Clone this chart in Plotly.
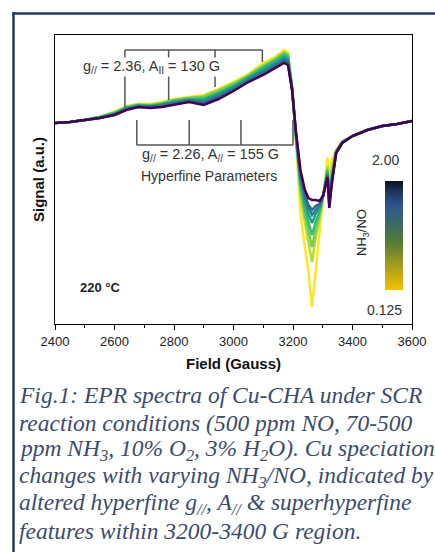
import plotly.graph_objects as go

# ---------------- data ----------------
field = [2400, 2450, 2500, 2550, 2600, 2640, 2680, 2720, 2760, 2800, 2850, 2900, 2950,
         3000, 3050, 3100, 3140, 3170, 3183, 3197, 3210, 3225, 3240, 3252, 3264, 3276,
         3290, 3302, 3310, 3316, 3322, 3330, 3345, 3365, 3400, 3450, 3500, 3550, 3600]

ratios = [0.125, 0.25, 0.50, 0.75, 1.00, 1.25, 1.50, 2.00]

sig_0125 = [0.00, 0.01, 0.03, 0.06, 0.11, 0.17, 0.19, 0.19, 0.21, 0.24, 0.26, 0.28, 0.34,
            0.41, 0.49, 0.60, 0.66, 0.73, 0.71, 0.35, -0.17, -0.90, -1.24, -1.49, -1.84, -1.45,
            -1.07, -0.72, -0.52, -0.35, -0.55, -0.37, -0.27, -0.19, -0.13, -0.07, -0.03, -0.01, 0.02]
sig_025 = [0.00, 0.01, 0.03, 0.06, 0.11, 0.16, 0.19, 0.18, 0.20, 0.23, 0.25, 0.27, 0.33,
           0.40, 0.48, 0.58, 0.65, 0.71, 0.69, 0.35, -0.16, -0.72, -1.00, -1.18, -1.39, -1.16,
           -0.95, -0.72, -0.56, -0.43, -0.68, -0.47, -0.28, -0.19, -0.13, -0.07, -0.03, -0.01, 0.02]
sig_050 = [0.00, 0.01, 0.03, 0.06, 0.10, 0.16, 0.18, 0.18, 0.20, 0.23, 0.25, 0.26, 0.32,
           0.39, 0.47, 0.57, 0.63, 0.70, 0.68, 0.35, -0.15, -0.66, -0.92, -1.08, -1.24, -1.07,
           -0.91, -0.72, -0.58, -0.46, -0.72, -0.51, -0.28, -0.19, -0.13, -0.07, -0.03, -0.01, 0.02]
sig_075 = [0.00, 0.01, 0.03, 0.06, 0.10, 0.15, 0.18, 0.17, 0.19, 0.22, 0.24, 0.24, 0.30,
           0.37, 0.46, 0.55, 0.62, 0.68, 0.66, 0.34, -0.14, -0.61, -0.86, -0.99, -1.12, -0.99,
           -0.88, -0.72, -0.59, -0.48, -0.75, -0.54, -0.29, -0.19, -0.13, -0.07, -0.03, -0.01, 0.02]
sig_100 = [0.00, 0.01, 0.03, 0.05, 0.09, 0.15, 0.17, 0.17, 0.18, 0.21, 0.23, 0.23, 0.29,
           0.36, 0.45, 0.53, 0.60, 0.66, 0.64, 0.34, -0.13, -0.56, -0.79, -0.91, -1.00, -0.91,
           -0.84, -0.72, -0.60, -0.50, -0.79, -0.57, -0.29, -0.20, -0.13, -0.07, -0.03, -0.01, 0.02]
sig_125 = [0.00, 0.01, 0.03, 0.05, 0.09, 0.14, 0.17, 0.16, 0.18, 0.20, 0.23, 0.21, 0.27,
           0.35, 0.43, 0.52, 0.58, 0.64, 0.62, 0.34, -0.11, -0.53, -0.75, -0.85, -0.92, -0.87,
           -0.82, -0.72, -0.61, -0.51, -0.81, -0.58, -0.30, -0.20, -0.13, -0.07, -0.03, -0.01, 0.02]
sig_150 = [0.00, 0.01, 0.03, 0.05, 0.08, 0.14, 0.16, 0.16, 0.17, 0.19, 0.22, 0.20, 0.26,
           0.33, 0.42, 0.50, 0.57, 0.62, 0.60, 0.33, -0.10, -0.51, -0.72, -0.82, -0.87, -0.83,
           -0.81, -0.72, -0.61, -0.52, -0.82, -0.60, -0.30, -0.20, -0.13, -0.07, -0.03, -0.01, 0.02]
sig_200 = [0.00, 0.01, 0.03, 0.05, 0.08, 0.13, 0.16, 0.15, 0.16, 0.18, 0.21, 0.18, 0.24,
           0.32, 0.41, 0.48, 0.55, 0.60, 0.58, 0.33, -0.09, -0.47, -0.67, -0.75, -0.77, -0.77,
           -0.78, -0.72, -0.62, -0.54, -0.85, -0.62, -0.30, -0.20, -0.13, -0.07, -0.03, -0.01, 0.02]

series = [sig_0125, sig_025, sig_050, sig_075, sig_100, sig_125, sig_150, sig_200]
line_colors = ['#fde725', '#b5de2b', '#6ece58', '#35b779', '#1f9e89', '#26828e', '#31688e', '#440154']

# hyperfine bracket positions (Gauss)
upper_bracket = [2635, 2782, 2938, 3097]
lower_bracket = [2675, 2851, 3025, 3200]

x_ticks = [2400, 2600, 2800, 3000, 3200, 3400, 3600]

caption_lines = [
    "Fig.1: EPR spectra of Cu-CHA under SCR",
    "reaction conditions (500 ppm NO, 70-500",
    "ppm NH<sub>3</sub>, 10% O<sub>2</sub>, 3% H<sub>2</sub>O). Cu speciation",
    "changes with varying NH<sub>3</sub>/NO, indicated by",
    "altered hyperfine g<sub>//</sub>, A<sub>//</sub> &amp; superhyperfine",
    "features within 3200-3400 G region.",
]

# ---------------- geometry helpers ----------------
W, H = 435, 552
L, R, T, B = 55, 23, 35, 228
PW, PH = W - L - R, H - T - B


def px2paper_x(px):
    return (px - L) / PW


def py2paper_y(py):
    return (H - B - py) / PH


def py2sig(py):
    return (123 - py) / 100.0


SANS = "Arial, Liberation Sans, sans-serif"
SERIF = "Times New Roman, Liberation Serif, serif"

fig = go.Figure()

for s, c in zip(series, line_colors):
    fig.add_trace(go.Scatter(x=field, y=s, mode="lines",
                             line=dict(color=c, width=2.5), showlegend=False,
                             hoverinfo="skip"))

cscale = [[0.0, '#f6c200'], [0.22, '#a89c1c'], [0.45, '#4f7c36'],
          [0.62, '#3d6868'], [0.78, '#2d5490'], [0.9, '#1d355f'], [1.0, '#0b101c']]
fig.add_trace(go.Scatter(
    x=[None], y=[None], mode="markers", showlegend=False, hoverinfo="skip",
    marker=dict(color=[ratios[0]], cmin=ratios[0], cmax=ratios[-1], colorscale=cscale,
                showscale=True,
                colorbar=dict(x=px2paper_x(375), xanchor="left", xref="paper",
                              y=py2paper_y(235.5), yanchor="middle", yref="paper",
                              thickness=18, thicknessmode="pixels",
                              len=129, lenmode="pixels", outlinewidth=0,
                              showticklabels=False, ticks=""))))

shapes = []
gray = "#555555"
# upper bracket
up_y = py2sig(50)
up_ends = [py2sig(107), py2sig(100), py2sig(87), py2sig(62)]
shapes.append(dict(type="line", x0=upper_bracket[0], x1=upper_bracket[-1], y0=up_y, y1=up_y,
                   xref="x", yref="y", line=dict(color=gray, width=1.5)))
for xb, ye in zip(upper_bracket, up_ends):
    shapes.append(dict(type="line", x0=xb, x1=xb, y0=up_y, y1=ye, xref="x", yref="y",
                       line=dict(color=gray, width=1.5)))
# lower bracket
lo_y = py2sig(145)
lo_top = py2sig(120)
shapes.append(dict(type="line", x0=lower_bracket[0], x1=lower_bracket[-1], y0=lo_y, y1=lo_y,
                   xref="x", yref="y", line=dict(color=gray, width=1.5)))
for xb in lower_bracket:
    shapes.append(dict(type="line", x0=xb, x1=xb, y0=lo_y, y1=lo_top, xref="x", yref="y",
                       line=dict(color=gray, width=1.5)))

# outer frame (left and top edges)
frame_c = "#223a60"
shapes.append(dict(type="line", xref="paper", yref="paper",
                   x0=px2paper_x(13.5), x1=px2paper_x(13.5),
                   y0=py2paper_y(12.3), y1=py2paper_y(570), line=dict(color=frame_c, width=2.5)))
shapes.append(dict(type="line", xref="paper", yref="paper",
                   x0=px2paper_x(12.3), x1=px2paper_x(450),
                   y0=py2paper_y(13.5), y1=py2paper_y(13.5), line=dict(color=frame_c, width=2.5)))

ann = []
ann.append(dict(text="g<sub>//</sub> = 2.36, A<sub>II</sub> = 130 G", x=px2paper_x(151),
                y=py2paper_y(67), xref="paper", yref="paper", showarrow=False,
                font=dict(family=SANS, size=14.5, color="#333"), bgcolor="white",
                xanchor="center", yanchor="middle", borderpad=0))
ann.append(dict(text="g<sub>//</sub> = 2.26, A<sub>//</sub> = 155 G", x=px2paper_x(210),
                y=py2paper_y(155), xref="paper", yref="paper", showarrow=False,
                font=dict(family=SANS, size=14.5, color="#333"),
                xanchor="center", yanchor="middle"))
ann.append(dict(text="Hyperfine Parameters", x=px2paper_x(209), y=py2paper_y(176),
                xref="paper", yref="paper", showarrow=False,
                font=dict(family=SANS, size=14, color="#333"),
                xanchor="center", yanchor="middle"))
ann.append(dict(text="<b>220 °C</b>", x=px2paper_x(100), y=py2paper_y(287),
                xref="paper", yref="paper", showarrow=False,
                font=dict(family=SANS, size=13, color="#222"),
                xanchor="center", yanchor="middle"))
ann.append(dict(text="2.00", x=px2paper_x(385), y=py2paper_y(160), xref="paper", yref="paper",
                showarrow=False, font=dict(family=SANS, size=14, color="#333"),
                xanchor="center", yanchor="middle"))
ann.append(dict(text="0.125", x=px2paper_x(384), y=py2paper_y(310), xref="paper", yref="paper",
                showarrow=False, font=dict(family=SANS, size=14, color="#333"),
                xanchor="center", yanchor="middle"))
ann.append(dict(text="NH<sub>3</sub>/NO", x=px2paper_x(362), y=py2paper_y(233),
                xref="paper", yref="paper", showarrow=False, textangle=-90,
                font=dict(family=SANS, size=13, color="#222"),
                xanchor="center", yanchor="middle"))
ann.append(dict(text="<b>Field (Gauss)</b>", x=0.5, y=py2paper_y(363), xref="paper",
                yref="paper", showarrow=False, font=dict(family=SANS, size=15, color="#111"),
                xanchor="center", yanchor="middle"))
ann.append(dict(text="<b>Signal (a.u.)</b>", x=px2paper_x(38), y=py2paper_y(180),
                xref="paper", yref="paper", showarrow=False, textangle=-90,
                font=dict(family=SANS, size=15, color="#111"),
                xanchor="center", yanchor="middle"))

cap_y = [395, 422.5, 450, 477, 504, 531]
for txt, yy in zip(caption_lines, cap_y):
    ann.append(dict(text="<i>" + txt + "</i>", x=px2paper_x(17), y=py2paper_y(yy),
                    xref="paper", yref="paper", showarrow=False, xanchor="left",
                    yanchor="middle", align="left",
                    font=dict(family=SERIF, size=23.5, color="#3d4b6b")))

fig.update_layout(
    width=W, height=H, margin=dict(l=L, r=R, t=T, b=B, autoexpand=False),
    paper_bgcolor="white", plot_bgcolor="white",
    shapes=shapes, annotations=ann, showlegend=False,
    xaxis=dict(range=[2400, 3600], tickvals=x_ticks, ticktext=[str(v) for v in x_ticks],
               ticks="outside", ticklen=5, tickwidth=1, tickcolor="black",
               minor=dict(dtick=100, ticks="outside", ticklen=3, tickcolor="black", showgrid=False),
               showline=True, linecolor="black", linewidth=1, mirror=True,
               showgrid=False, zeroline=False,
               tickfont=dict(family=SANS, size=13, color="#222")),
    yaxis=dict(range=[py2sig(324), py2sig(35)], showticklabels=False, ticks="",
               showline=True, linecolor="black", linewidth=1, mirror=True,
               showgrid=False, zeroline=False),
)

fig.write_html("out.html")
